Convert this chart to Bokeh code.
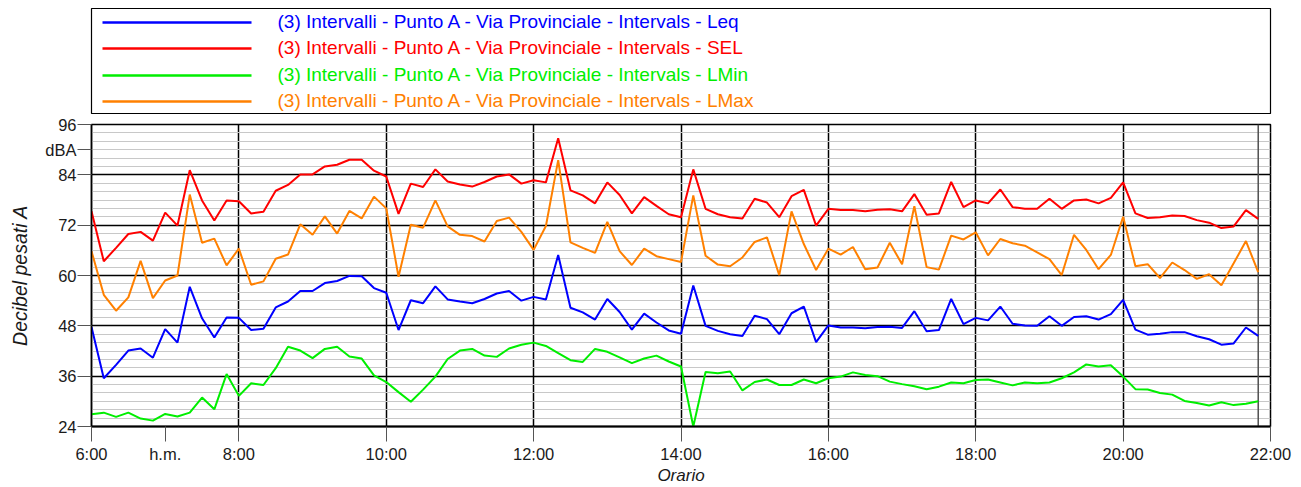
from bokeh.plotting import figure
from bokeh.models import Range1d, FixedTicker, SingleIntervalTicker, Span
from bokeh.layouts import column
from bokeh.embed import file_html
from bokeh.resources import INLINE
from bokeh.core.properties import value

FONT = "Liberation Sans"

# ---------------- data (10-minute intervals, 6:00 .. 21:50) ----------------
n_points = 96
start_hour = 6
times = [start_hour + k / 6 for k in range(n_points)]

leq = [47.7, 35.5, 38.7, 42.1, 42.6, 40.4, 47.2, 44.0, 57.3, 49.8, 45.2, 50.0, 49.9, 47.0, 47.3, 52.4,
       53.8, 56.3, 56.3, 58.2, 58.7, 59.9, 59.8, 57.0, 55.9, 47.0,
       54.1, 53.4, 57.4, 54.3, 53.8, 53.4, 54.4, 55.7, 56.3, 54.0, 54.9, 54.3, 64.9, 52.3, 51.2, 49.5,
       54.4, 51.3, 47.1, 50.9, 48.8, 46.9, 46.1, 57.6,
       48.0, 46.8, 46.0, 45.6, 50.4, 49.6, 46.0, 51.0, 52.6, 44.1, 48.1, 47.6, 47.6, 47.4, 47.7, 47.8,
       47.5, 51.5, 46.7, 47.0, 54.4, 48.4, 49.9, 49.3, 52.6,
       48.5, 48.1, 48.0, 50.3, 48.0, 50.1, 50.3, 49.5, 50.8, 54.2, 47.1, 45.9, 46.1, 46.5, 46.5, 45.5,
       44.8, 43.5, 43.8, 47.6, 45.6]

sel = [75.3, 63.4, 66.6, 69.9, 70.4, 68.3, 75.0, 71.9, 85.1, 77.9, 73.1, 77.9, 77.7, 74.8, 75.2, 80.2,
       81.6, 84.1, 84.1, 86.0, 86.4, 87.6, 87.6, 85.0, 83.6, 74.7,
       81.9, 81.1, 85.3, 82.4, 81.7, 81.2, 82.3, 83.6, 84.1, 81.9, 82.7, 82.2, 92.7, 80.3, 79.1, 77.2,
       82.2, 79.2, 74.8, 78.7, 76.6, 74.6, 73.9, 85.3,
       75.9, 74.6, 73.9, 73.6, 78.3, 77.4, 73.9, 78.9, 80.4, 71.9, 75.9, 75.6, 75.6, 75.3, 75.7, 75.8,
       75.3, 79.4, 74.5, 74.8, 82.3, 76.3, 77.9, 77.2, 80.5,
       76.3, 75.9, 75.9, 78.3, 75.9, 77.9, 78.1, 77.2, 78.5, 82.2, 74.8, 73.7, 73.9, 74.3, 74.2, 73.2,
       72.6, 71.3, 71.7, 75.6, 73.5]

lmin = [26.9, 27.3, 26.3, 27.3, 25.9, 25.4, 27.0, 26.4, 27.3, 30.9, 28.1, 36.5, 31.3, 34.3, 33.9, 37.9,
        43.0, 42.1, 40.3, 42.5, 43.0, 40.7, 40.2, 36.2, 34.6, 32.2,
        29.9, 32.8, 35.9, 40.1, 42.1, 42.5, 40.9, 40.6, 42.6, 43.5, 44.0, 43.2, 41.5, 39.8, 39.4, 42.5,
        41.8, 40.5, 39.1, 40.2, 40.9, 39.5, 38.3, 24.0,
        37.0, 36.7, 37.1, 32.6, 34.6, 35.2, 33.9, 33.9, 35.2, 34.3, 35.5, 35.9, 36.9, 36.3, 36.0, 34.7,
        34.1, 33.6, 32.9, 33.5, 34.5, 34.3, 35.1, 35.2, 34.5,
        33.8, 34.5, 34.3, 34.5, 35.5, 36.9, 38.8, 38.3, 38.6, 35.9, 32.9, 32.8, 32.0, 31.6, 30.1, 29.6,
        29.0, 29.8, 29.1, 29.4, 30.0]

lmax = [65.8, 55.4, 51.6, 54.8, 63.5, 54.6, 58.8, 60.0, 79.3, 67.8, 68.8, 62.4, 66.4, 57.8, 58.6, 64.0,
        65.0, 72.2, 69.7, 74.1, 70.0, 75.4, 73.6, 78.8, 76.0, 59.7,
        72.1, 71.4, 77.9, 71.7, 69.7, 69.4, 68.1, 73.0, 73.8, 70.4, 66.1, 71.8, 87.5, 67.9, 66.6, 65.4,
        72.8, 65.8, 62.5, 66.4, 64.6, 63.9, 63.2, 79.1,
        64.7, 62.6, 62.2, 64.3, 68.0, 69.1, 60.1, 75.3, 67.5, 61.3, 66.4, 65.0, 66.8, 61.5, 61.9, 67.8,
        62.7, 76.5, 62.0, 61.4, 69.5, 68.6, 70.3, 64.8, 68.7,
        67.7, 67.1, 65.5, 63.9, 60.1, 69.7, 66.1, 61.5, 64.9, 74.0, 62.2, 62.7, 59.4, 63.1, 61.3, 59.2,
        60.3, 57.7, 62.9, 68.2, 60.8]

series_names = ["(3) Intervalli - Punto A - Via Provinciale - Intervals - Leq",
                "(3) Intervalli - Punto A - Via Provinciale - Intervals - SEL",
                "(3) Intervalli - Punto A - Via Provinciale - Intervals - LMin",
                "(3) Intervalli - Punto A - Via Provinciale - Intervals - LMax"]
series_values = [leq, sel, lmin, lmax]
series_colors = ["#0000ff", "#ff0000", "#00ee00", "#ff8000"]

x_ticks = [6, 7, 8, 10, 12, 14, 16, 18, 20, 22]
x_labels = ["6:00", "h.m.", "8:00", "10:00", "12:00", "14:00", "16:00", "18:00", "20:00", "22:00"]
grid_hours = [6, 8, 10, 12, 14, 16, 18, 20, 22]
y_ticks = [24, 36, 48, 60, 72, 84, 90, 96]
y_labels = ["24", "36", "48", "60", "72", "84", "dBA", "96"]
y_min, y_max, y_step = 24, 96, 12
end_time = 21 + 50 / 60

# ---------------- legend figure ----------------
leg = figure(width=1301, height=114, output_backend="svg", toolbar_location=None,
             x_range=Range1d(0, 1179), y_range=Range1d(105, 0),
             x_axis_type=None, y_axis_type=None,
             min_border_left=91, min_border_right=31, min_border_top=8, min_border_bottom=1)
leg.grid.visible = False
leg.outline_line_color = "black"
leg.outline_line_width = 1.2
leg.background_fill_color = "white"
leg.border_fill_color = "white"
line_rows = [14, 40, 67, 93]
for name, col, yy in zip(series_names, series_colors, line_rows):
    leg.segment(x0=[11], y0=[yy], x1=[160], y1=[yy], line_color=col, line_width=2.5)
    leg.text(x=[186], y=[yy - 1.5], text=[name], text_color=col, text_font=value(FONT),
             text_font_size="19px", text_baseline="middle", text_align="left")

# ---------------- main figure ----------------
p = figure(width=1301, height=373, output_backend="svg", toolbar_location=None,
           x_range=Range1d(6, 22), y_range=Range1d(y_min, y_max),
           min_border_left=89, min_border_right=31, min_border_top=10, min_border_bottom=60)
p.background_fill_color = "white"
p.border_fill_color = "white"
p.outline_line_color = "black"
p.outline_line_width = 1.5

p.yaxis.ticker = FixedTicker(ticks=y_ticks)
p.yaxis.major_label_overrides = {t: l for t, l in zip(y_ticks, y_labels)}
p.ygrid.ticker = SingleIntervalTicker(interval=y_step, num_minor_ticks=6)
p.ygrid.grid_line_color = "black"
p.ygrid.grid_line_width = 1.5
p.ygrid.minor_grid_line_color = "#c8c8c8"
p.ygrid.minor_grid_line_width = 1.2

p.xaxis.ticker = FixedTicker(ticks=x_ticks)
p.xaxis.major_label_overrides = {t: l for t, l in zip(x_ticks, x_labels)}
p.xgrid.ticker = FixedTicker(ticks=grid_hours)
p.xgrid.grid_line_color = "black"
p.xgrid.grid_line_width = 1.5

p.add_layout(Span(location=end_time, dimension="height", line_color="#505050",
                  line_width=1.5, level="underlay"))

for ax in (p.xaxis[0], p.yaxis[0]):
    ax.major_tick_in = 0
    ax.major_tick_line_color = "#555555"
    ax.minor_tick_line_color = None
    ax.axis_line_color = "black"
    ax.major_label_text_font = FONT
    ax.major_label_text_font_size = "16.5px"
    ax.major_label_text_color = "#1a1a1a"
    ax.axis_label_text_font = FONT
    ax.axis_label_text_font_style = "italic"
    ax.axis_label_text_color = "#1a1a1a"

p.xaxis.axis_line_width = 2
p.yaxis.axis_line_width = 1.5
p.xaxis.major_tick_out = 15
p.yaxis.major_tick_out = 14
p.xaxis.major_label_standoff = 3
p.yaxis.major_label_standoff = 1
p.xaxis.axis_label = "Orario"
p.yaxis.axis_label = "Decibel pesati A"
p.xaxis.axis_label_text_font_size = "17px"
p.yaxis.axis_label_text_font_size = "19.5px"
p.xaxis.axis_label_standoff = 0
p.yaxis.axis_label_standoff = 11

for vals, col in zip(series_values, series_colors):
    p.line(times, vals, line_color=col, line_width=2)

layout = column(leg, p, spacing=0)
open("out.html", "w").write(file_html(layout, INLINE))
